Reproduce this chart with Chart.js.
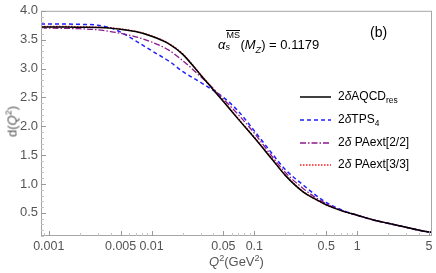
<!DOCTYPE html>
<html><head><meta charset="utf-8">
<script src="https://cdn.jsdelivr.net/npm/chart.js@4"></script>
<style>
body{margin:0;background:#fff;font-family:"Liberation Sans",Arial,sans-serif;}
#wrap{position:relative;width:436px;height:273px;}
canvas{position:absolute;left:0;top:0;}
.t{position:absolute;white-space:nowrap;color:#000;}
.g{color:#555;}
sup,sub{font-size:70%;line-height:0;}
.ss{display:inline-block;position:relative;width:15px;height:10px;}
.ss .sp{position:absolute;left:1px;top:-9px;font-size:9px;border-top:1px solid #000;line-height:9px;}
.ss .sb{position:absolute;left:0;top:4px;font-size:9px;font-style:italic;line-height:9px;}
</style></head>
<body><div id="wrap"><canvas id="c" width="436" height="273"></canvas>
<div class="t g" id="ylab" style="left:-10px;top:114px;font-size:13px;transform:rotate(-90deg);transform-origin:center;width:44px;text-align:center;">d(<i>Q</i><sup>2</sup>)</div>
<div class="t g" style="left:209px;top:254px;font-size:13px;"><i>Q</i><sup>2</sup>(GeV<sup>2</sup>)</div>
<div class="t" style="left:218px;top:37px;font-size:13px;"><i>α</i><span class="ss"><span class="sp">MS</span><span class="sb">s</span></span>(<i>M<sub>Z</sub></i>) = 0.1179</div>
<div class="t" style="left:370px;top:24px;font-size:14px;">(b)</div>
<div id="leg"></div>
</div>
<script>
const Q2 = [0.00084,0.001,0.0015,0.002,0.003,0.004,0.005,0.007,0.01,0.015,0.02,0.03,0.04,0.05,0.07,0.1,0.15,0.2,0.3,0.4,0.5,0.7,1,1.5,2,3,4,5,5.3];
const dAQCD = [3.72,3.72,3.72,3.715,3.71,3.70,3.68,3.64,3.56,3.42,3.25,2.89,2.63,2.43,2.12,1.80,1.42,1.15,0.86,0.73,0.64,0.54,0.46,0.37,0.32,0.25,0.20,0.17,0.165];
const dTPS4 = [3.77,3.77,3.77,3.765,3.75,3.70,3.63,3.48,3.31,3.12,2.95,2.76,2.62,2.50,2.26,1.92,1.52,1.25,0.98,0.80,0.68,0.555,0.46,0.37,0.32,0.25,0.20,0.17,0.165];
const dPA22 = [3.70,3.70,3.695,3.69,3.67,3.64,3.61,3.55,3.46,3.31,3.14,2.86,2.65,2.47,2.20,1.88,1.47,1.20,0.92,0.76,0.66,0.545,0.46,0.37,0.32,0.25,0.20,0.17,0.165];
const dPA33 = [3.73,3.73,3.73,3.72,3.715,3.705,3.685,3.645,3.565,3.425,3.255,2.895,2.64,2.44,2.13,1.81,1.43,1.155,0.865,0.73,0.64,0.54,0.46,0.37,0.32,0.25,0.20,0.17,0.165];
const xTicks = [0.001,0.005,0.01,0.05,0.1,0.5,1,5];
const xTickLabels = ["0.001","0.005","0.01","0.05","0.1","0.5","1","5"];
const yTicks = [0.5,1.0,1.5,2.0,2.5,3.0,3.5,4.0];
const yTickLabels = ["0.5","1.0","1.5","2.0","2.5","3.0","3.5","4.0"];
const seriesNames = ["2δAQCD_res","2δTPS_4","2δ PAext[2/2]","2δ PAext[3/3]"];

const styles = [
  {color:'#000000',dash:[],w:1.5},
  {color:'#1f1fff',dash:[4,3],w:1.5},
  {color:'#8a1a8a',dash:[6,2,1.5,2],w:1.3},
  {color:'#ff1a1a',dash:[1.5,1.5],w:1.5}
];
const allY=[dAQCD,dTPS4,dPA22,dPA33];
const datasets = allY.map((arr,i)=>({
  label:seriesNames[i],
  data:Q2.map((q,j)=>({x:q,y:arr[j]})),
  borderColor:styles[i].color,borderDash:styles[i].dash,borderWidth:styles[i].w,
  pointRadius:0,fill:false,cubicInterpolationMode:'monotone'
}));
const order=[0,2,1,3];
const ds = order.map(i=>datasets[i]);

const frame = {
  id:'frame',
  afterDraw(chart){
    const {ctx,chartArea:a,scales:{x,y}}=chart;
    ctx.save();
    ctx.strokeStyle='#a6a6a6';ctx.lineWidth=1;
    ctx.strokeRect(a.left+0.5,a.top+0.5,a.right-a.left-1,a.bottom-a.top-1);
    ctx.strokeStyle='#999';
    ctx.beginPath();
    xTicks.forEach(v=>{const p=Math.round(x.getPixelForValue(v))+0.5;ctx.moveTo(p,a.bottom);ctx.lineTo(p,a.bottom-5);});
    yTicks.forEach(v=>{const p=Math.round(y.getPixelForValue(v))+0.5;ctx.moveTo(a.left,p);ctx.lineTo(a.left+5,p);});
    ctx.stroke();
    ctx.strokeStyle='#c4c4c4';
    ctx.beginPath();
    for(let e=-4;e<=0;e++){for(let k=2;k<=9;k++){const v=k*Math.pow(10,e);if(k===5)continue;if(v<x.min||v>x.max)continue;const p=Math.round(x.getPixelForValue(v))+0.5;ctx.moveTo(p,a.bottom);ctx.lineTo(p,a.bottom-3);}}
    for(let k=1;k<40;k++){const v=k/10;if(k%5===0||v<y.min)continue;const p=Math.round(y.getPixelForValue(v))+0.5;ctx.moveTo(a.left,p);ctx.lineTo(a.left+3,p);}
    ctx.stroke();
    ctx.restore();
  }
};

new Chart(document.getElementById('c'),{
  type:'line',
  data:{datasets:ds},
  options:{
    responsive:false,animation:false,
    layout:{padding:{top:7,right:4,left:0,bottom:0}},
    plugins:{legend:{display:false},tooltip:{enabled:false}},
    scales:{
      x:{type:'logarithmic',min:0.00084,max:5.35,
        afterBuildTicks:s=>{s.ticks=xTicks.map(v=>({value:v}));},
        afterFit:s=>{s.height=37;},
        ticks:{autoSkip:false,maxRotation:0,padding:3,color:'#555',font:{family:'Liberation Sans',size:12.5},
          callback:(v)=>{const i=xTicks.findIndex(t=>Math.abs(t-v)/t<1e-6);return i>=0?xTickLabels[i]:'';}},
        grid:{display:false,drawTicks:false},border:{display:false}},
      y:{type:'linear',min:0.1,max:4.0,
        afterBuildTicks:s=>{s.ticks=yTicks.map(v=>({value:v}));},
        afterFit:s=>{s.width=41;},
        ticks:{autoSkip:false,padding:3,color:'#555',font:{family:'Liberation Sans',size:13},
          callback:(v)=>{const i=yTicks.findIndex(t=>Math.abs(t-v)<1e-6);return i>=0?yTickLabels[i]:'';}},
        grid:{display:false,drawTicks:false},border:{display:false}}
    }
  },
  plugins:[frame]
});

const leg=document.getElementById('leg');
const rowsY=[97,120,142.5,165];
seriesNames.forEach((n,i)=>{
  const st=styles[i];
  const svg=`<svg style="position:absolute;left:300px;top:${rowsY[i]-3}px" width="32" height="6"><line x1="0" y1="3" x2="31" y2="3" stroke="${st.color}" stroke-width="${st.w}" stroke-dasharray="${st.dash.join(',')}"/></svg>`;
  const parts=n.split('_');
  const lab=parts[0].replace('δ','<i>δ</i>')+(parts[1]?'<sub>'+parts[1]+'</sub>':'');
  leg.insertAdjacentHTML('beforeend',svg+`<div class="t" style="left:338px;top:${rowsY[i]-8}px;font-size:12px;">${lab}</div>`);
});
</script></body></html>
